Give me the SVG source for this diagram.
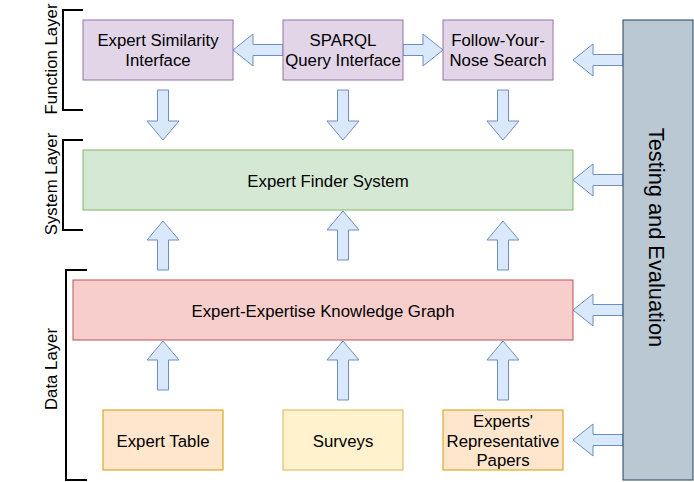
<svg xmlns="http://www.w3.org/2000/svg" width="694" height="482" viewBox="0 0 694 482">
<style>
text{font-family:"Liberation Sans",Arial,Helvetica,sans-serif;font-size:16.8px;fill:#000;text-anchor:middle}
.purple{fill:#e1d5e7;stroke:#9673a6;stroke-width:1}
.green{fill:#d5e8d4;stroke:#82b366;stroke-width:1}
.red{fill:#f8cecc;stroke:#b85450;stroke-width:1}
.orange{fill:#ffe6cc;stroke:#d79b00;stroke-width:1}
.yellow{fill:#fff2cc;stroke:#d6b656;stroke-width:1}
.grey{fill:#bac8d3;stroke:#23445d;stroke-width:1}
.arr{fill:#dae8fc;stroke:#6c8ebf;stroke-width:1;stroke-linejoin:miter}
.br{fill:none;stroke:#000;stroke-width:2}
</style>
<rect width="694" height="482" fill="#fff"/>
<g id="layers">
<g id="function-layer"><path class="br" d="M83,10 H63 V110 H83"/><text transform="translate(57,59) rotate(-90)">Function Layer</text></g>
<g id="system-layer"><path class="br" d="M83,140 H63 V230 H83"/><text transform="translate(57,184) rotate(-90)">System Layer</text></g>
<g id="data-layer"><path class="br" d="M87,270 H66 V480 H87"/><text transform="translate(57,369) rotate(-90)">Data Layer</text></g>
</g>
<g id="connectors">
<path class="arr" d="M157.5,90 H168.5 V121 H179 L163,140 L147,121 H157.5 Z"/>
<path class="arr" d="M337.5,90 H348.5 V121 H359 L343,140 L327,121 H337.5 Z"/>
<path class="arr" d="M497.5,90 H508.5 V121 H519 L503,140 L487,121 H497.5 Z"/>
<path class="arr" d="M157.5,270 H168.5 V240 H179 L163,221 L147,240 H157.5 Z"/>
<path class="arr" d="M337.5,260 H348.5 V230 H359 L343,211 L327,230 H337.5 Z"/>
<path class="arr" d="M497.5,270 H508.5 V240 H519 L503,221 L487,240 H497.5 Z"/>
<path class="arr" d="M157.5,390 H168.5 V360 H179 L163,341 L147,360 H157.5 Z"/>
<path class="arr" d="M337.5,400 H348.5 V360 H359 L343,341 L327,360 H337.5 Z"/>
<path class="arr" d="M497.5,400 H508.5 V360 H519 L503,341 L487,360 H497.5 Z"/>
<path class="arr" d="M283,44.5 V55.5 H253 V66 L233,50 L253,34 V44.5 Z"/>
<path class="arr" d="M403,44.5 V55.5 H423 V66 L443,50 L423,34 V44.5 Z"/>
<path class="arr" d="M623,54.5 V65.5 H593 V76 L573,60 L593,44 V54.5 Z"/>
<path class="arr" d="M623,174.5 V185.5 H593 V196 L573,180 L593,164 V174.5 Z"/>
<path class="arr" d="M623,304.5 V315.5 H593 V326 L573,310 L593,294 V304.5 Z"/>
<path class="arr" d="M623,434.5 V445.5 H593 V456 L573,440 L593,424 V434.5 Z"/>
</g>
<g id="expert-similarity"><rect class="purple" x="83" y="20" width="150" height="60"/><text x="158" y="46">Expert Similarity</text><text x="158" y="66">Interface</text></g>
<g id="sparql"><rect class="purple" x="283" y="20" width="120" height="60"/><text x="343" y="46">SPARQL</text><text x="343" y="66">Query Interface</text></g>
<g id="follow-your-nose"><rect class="purple" x="443" y="20" width="110" height="60"/><text x="498" y="46">Follow-Your-</text><text x="498" y="66">Nose Search</text></g>
<g id="expert-finder"><rect class="green" x="83" y="150" width="490" height="60"/><text x="328" y="186.5">Expert Finder System</text></g>
<g id="knowledge-graph"><rect class="red" x="73" y="280" width="500" height="60"/><text x="323" y="316.5">Expert-Expertise Knowledge Graph</text></g>
<g id="expert-table"><rect class="orange" x="103" y="410" width="120" height="60"/><text x="163" y="446.5">Expert Table</text></g>
<g id="surveys"><rect class="yellow" x="283" y="410" width="120" height="60"/><text x="343" y="446.5">Surveys</text></g>
<g id="papers"><rect class="orange" x="443" y="410" width="120" height="60"/><text x="503" y="426.5">Experts'</text><text x="503" y="446.5">Representative</text><text x="503" y="466">Papers</text></g>
<g id="testing"><rect class="grey" x="623" y="20" width="70" height="460"/><text style="font-size:21.8px" transform="translate(649,237.5) rotate(90)">Testing and Evaluation</text></g>
</svg>
